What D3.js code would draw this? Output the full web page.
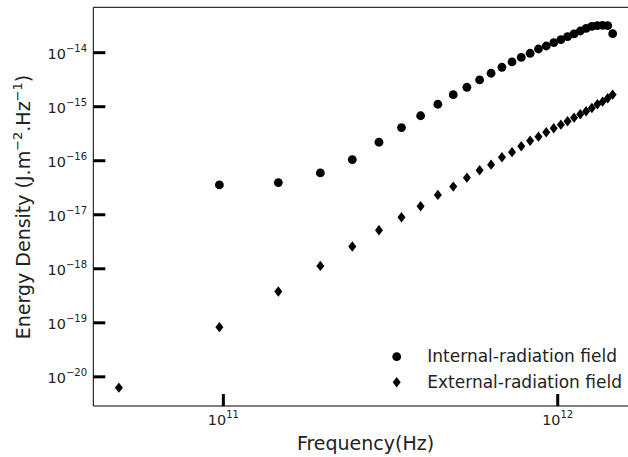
<!DOCTYPE html>
<html>
<head>
<meta charset="utf-8">
<script src="https://cdn.jsdelivr.net/npm/d3@7"></script>
<style>
  body { margin: 0; background: #fff; }
  svg { font-family: "DejaVu Sans", sans-serif; }
</style>
</head>
<body>
<div id="container"></div>
<script>
// frequency (Hz) of each sample
var freq = [4.87e10, 9.73e10, 1.46e11, 1.95e11, 2.43e11, 2.92e11, 3.41e11, 3.89e11, 4.38e11, 4.87e11,
            5.35e11, 5.84e11, 6.32e11, 6.81e11, 7.30e11, 7.78e11, 8.27e11, 8.76e11, 9.24e11, 9.73e11,
            1.022e12, 1.070e12, 1.119e12, 1.168e12, 1.216e12, 1.265e12, 1.314e12, 1.362e12, 1.411e12, 1.460e12];

// internal field, no value at the first frequency
var internalField = [null, 3.56e-17, 3.94e-17, 5.94e-17, 1.05e-16, 2.2e-16, 4.1e-16, 6.8e-16, 1.11e-15, 1.67e-15,
                     2.29e-15, 3.13e-15, 4.16e-15, 5.37e-15, 6.73e-15, 8.22e-15, 9.75e-15, 1.17e-14, 1.33e-14, 1.53e-14,
                     1.74e-14, 1.98e-14, 2.22e-14, 2.52e-14, 2.82e-14, 3.08e-14, 3.16e-14, 3.21e-14, 3.16e-14, 2.25e-14];

var externalField = [6.3e-21, 8.3e-20, 3.79e-19, 1.13e-18, 2.58e-18, 5.18e-18, 8.99e-18, 1.44e-17, 2.33e-17, 3.32e-17,
                     4.86e-17, 6.67e-17, 8.47e-17, 1.16e-16, 1.44e-16, 1.85e-16, 2.35e-16, 2.79e-16, 3.37e-16, 3.99e-16,
                     4.65e-16, 5.38e-16, 6.27e-16, 7.24e-16, 8.23e-16, 9.48e-16, 1.11e-15, 1.24e-15, 1.43e-15, 1.67e-15];

var xTicks = [11, 12],
    yTicks = [-14, -15, -16, -17, -18, -19, -20];

var legendNames = ['Internal-radiation field', 'External-radiation field'];

var W = 628, H = 457;
var plot = {left: 93.3, top: 7.3, right: 637.3, bottom: 406};

var svg = d3.select('#container').append('svg')
  .attr('width', W)
  .attr('height', H);

var x = d3.scaleLog()
  .domain([Math.pow(10, 10.611), Math.pow(10, 12.238)])
  .range([plot.left, plot.right]);

var y = d3.scaleLog()
  .domain([Math.pow(10, -20.54), Math.pow(10, -13.16)])
  .range([plot.bottom, plot.top]);

// frame: left, bottom, top
svg.append('path')
  .attr('d', 'M' + plot.right + ',' + plot.top + 'H' + plot.left + 'V' + plot.bottom + 'H' + plot.right)
  .attr('fill', 'none')
  .attr('stroke', '#000')
  .attr('stroke-width', 1);

// ticks, pointing inward
svg.selectAll('.ytick')
  .data(yTicks)
  .enter()
  .append('line')
    .attr('x1', plot.left)
    .attr('x2', plot.left + 12)
    .attr('y1', function(d) { return y(Math.pow(10, d)); })
    .attr('y2', function(d) { return y(Math.pow(10, d)); })
    .attr('stroke', '#000')
    .attr('stroke-width', 3);

svg.selectAll('.xtick')
  .data(xTicks)
  .enter()
  .append('line')
    .attr('x1', function(d) { return x(Math.pow(10, d)); })
    .attr('x2', function(d) { return x(Math.pow(10, d)); })
    .attr('y1', plot.bottom)
    .attr('y2', plot.bottom - 12)
    .attr('stroke', '#000')
    .attr('stroke-width', 3);

// tick labels as 10^n
var yLab = svg.selectAll('.ylab')
  .data(yTicks)
  .enter()
  .append('text')
    .attr('x', 87)
    .attr('y', function(d) { return y(Math.pow(10, d)) + 6; })
    .attr('text-anchor', 'end')
    .attr('font-size', 14.4)
    .attr('fill', '#222');
yLab.append('tspan').text('10');
yLab.append('tspan')
  .attr('dy', -7)
  .attr('font-size', 10)
  .text(function(d) { return '\u2212' + Math.abs(d); });

var xLab = svg.selectAll('.xlab')
  .data(xTicks)
  .enter()
  .append('text')
    .attr('x', function(d) { return x(Math.pow(10, d)); })
    .attr('y', 425)
    .attr('text-anchor', 'middle')
    .attr('font-size', 14.4)
    .attr('fill', '#222');
xLab.append('tspan').text('10');
xLab.append('tspan')
  .attr('dy', -7)
  .attr('font-size', 10)
  .text(function(d) { return d; });

// axis titles
svg.append('text')
  .attr('x', 365.5)
  .attr('y', 450)
  .attr('text-anchor', 'middle')
  .attr('font-size', 19)
  .attr('fill', '#222')
  .text('Frequency(Hz)');

var yTitle = svg.append('text')
  .attr('transform', 'translate(30,207) rotate(-90)')
  .attr('text-anchor', 'middle')
  .attr('font-size', 19)
  .attr('fill', '#222');
yTitle.append('tspan').text('Energy Density (J.m');
yTitle.append('tspan').attr('dy', -8).attr('font-size', 13).text('\u22122');
yTitle.append('tspan').attr('dy', 8).text('.Hz');
yTitle.append('tspan').attr('dy', -8).attr('font-size', 13).text('\u22121');
yTitle.append('tspan').attr('dy', 8).text(')');

// markers
var diamond = 'M0,-5.2L4,0L0,5.2L-4,0Z';

var clip = svg.append('defs').append('clipPath').attr('id', 'clip')
  .append('rect')
    .attr('x', plot.left).attr('y', plot.top)
    .attr('width', plot.right - plot.left).attr('height', plot.bottom - plot.top);

var marks = svg.append('g').attr('clip-path', 'url(#clip)');

marks.selectAll('.internal')
  .data(freq.map(function(f, i) { return [f, internalField[i]]; }).filter(function(d) { return d[1] != null; }))
  .enter()
  .append('circle')
    .attr('cx', function(d) { return x(d[0]); })
    .attr('cy', function(d) { return y(d[1]); })
    .attr('r', 4.4)
    .attr('fill', '#000');

marks.selectAll('.external')
  .data(freq.map(function(f, i) { return [f, externalField[i]]; }))
  .enter()
  .append('path')
    .attr('d', diamond)
    .attr('transform', function(d) { return 'translate(' + x(d[0]) + ',' + y(d[1]) + ')'; })
    .attr('fill', '#000');

// legend
var legend = svg.append('g');
legend.append('circle')
  .attr('cx', 396.7).attr('cy', 356.7).attr('r', 4.4).attr('fill', '#000');
legend.append('path')
  .attr('d', diamond)
  .attr('transform', 'translate(396.7,382.3)')
  .attr('fill', '#000');
legend.selectAll('text')
  .data(legendNames)
  .enter()
  .append('text')
    .attr('x', 427.3)
    .attr('y', function(d, i) { return 362 + i * 25.6; })
    .attr('font-size', 17)
    .attr('fill', '#222')
    .text(function(d) { return d; });
</script>
</body>
</html>
